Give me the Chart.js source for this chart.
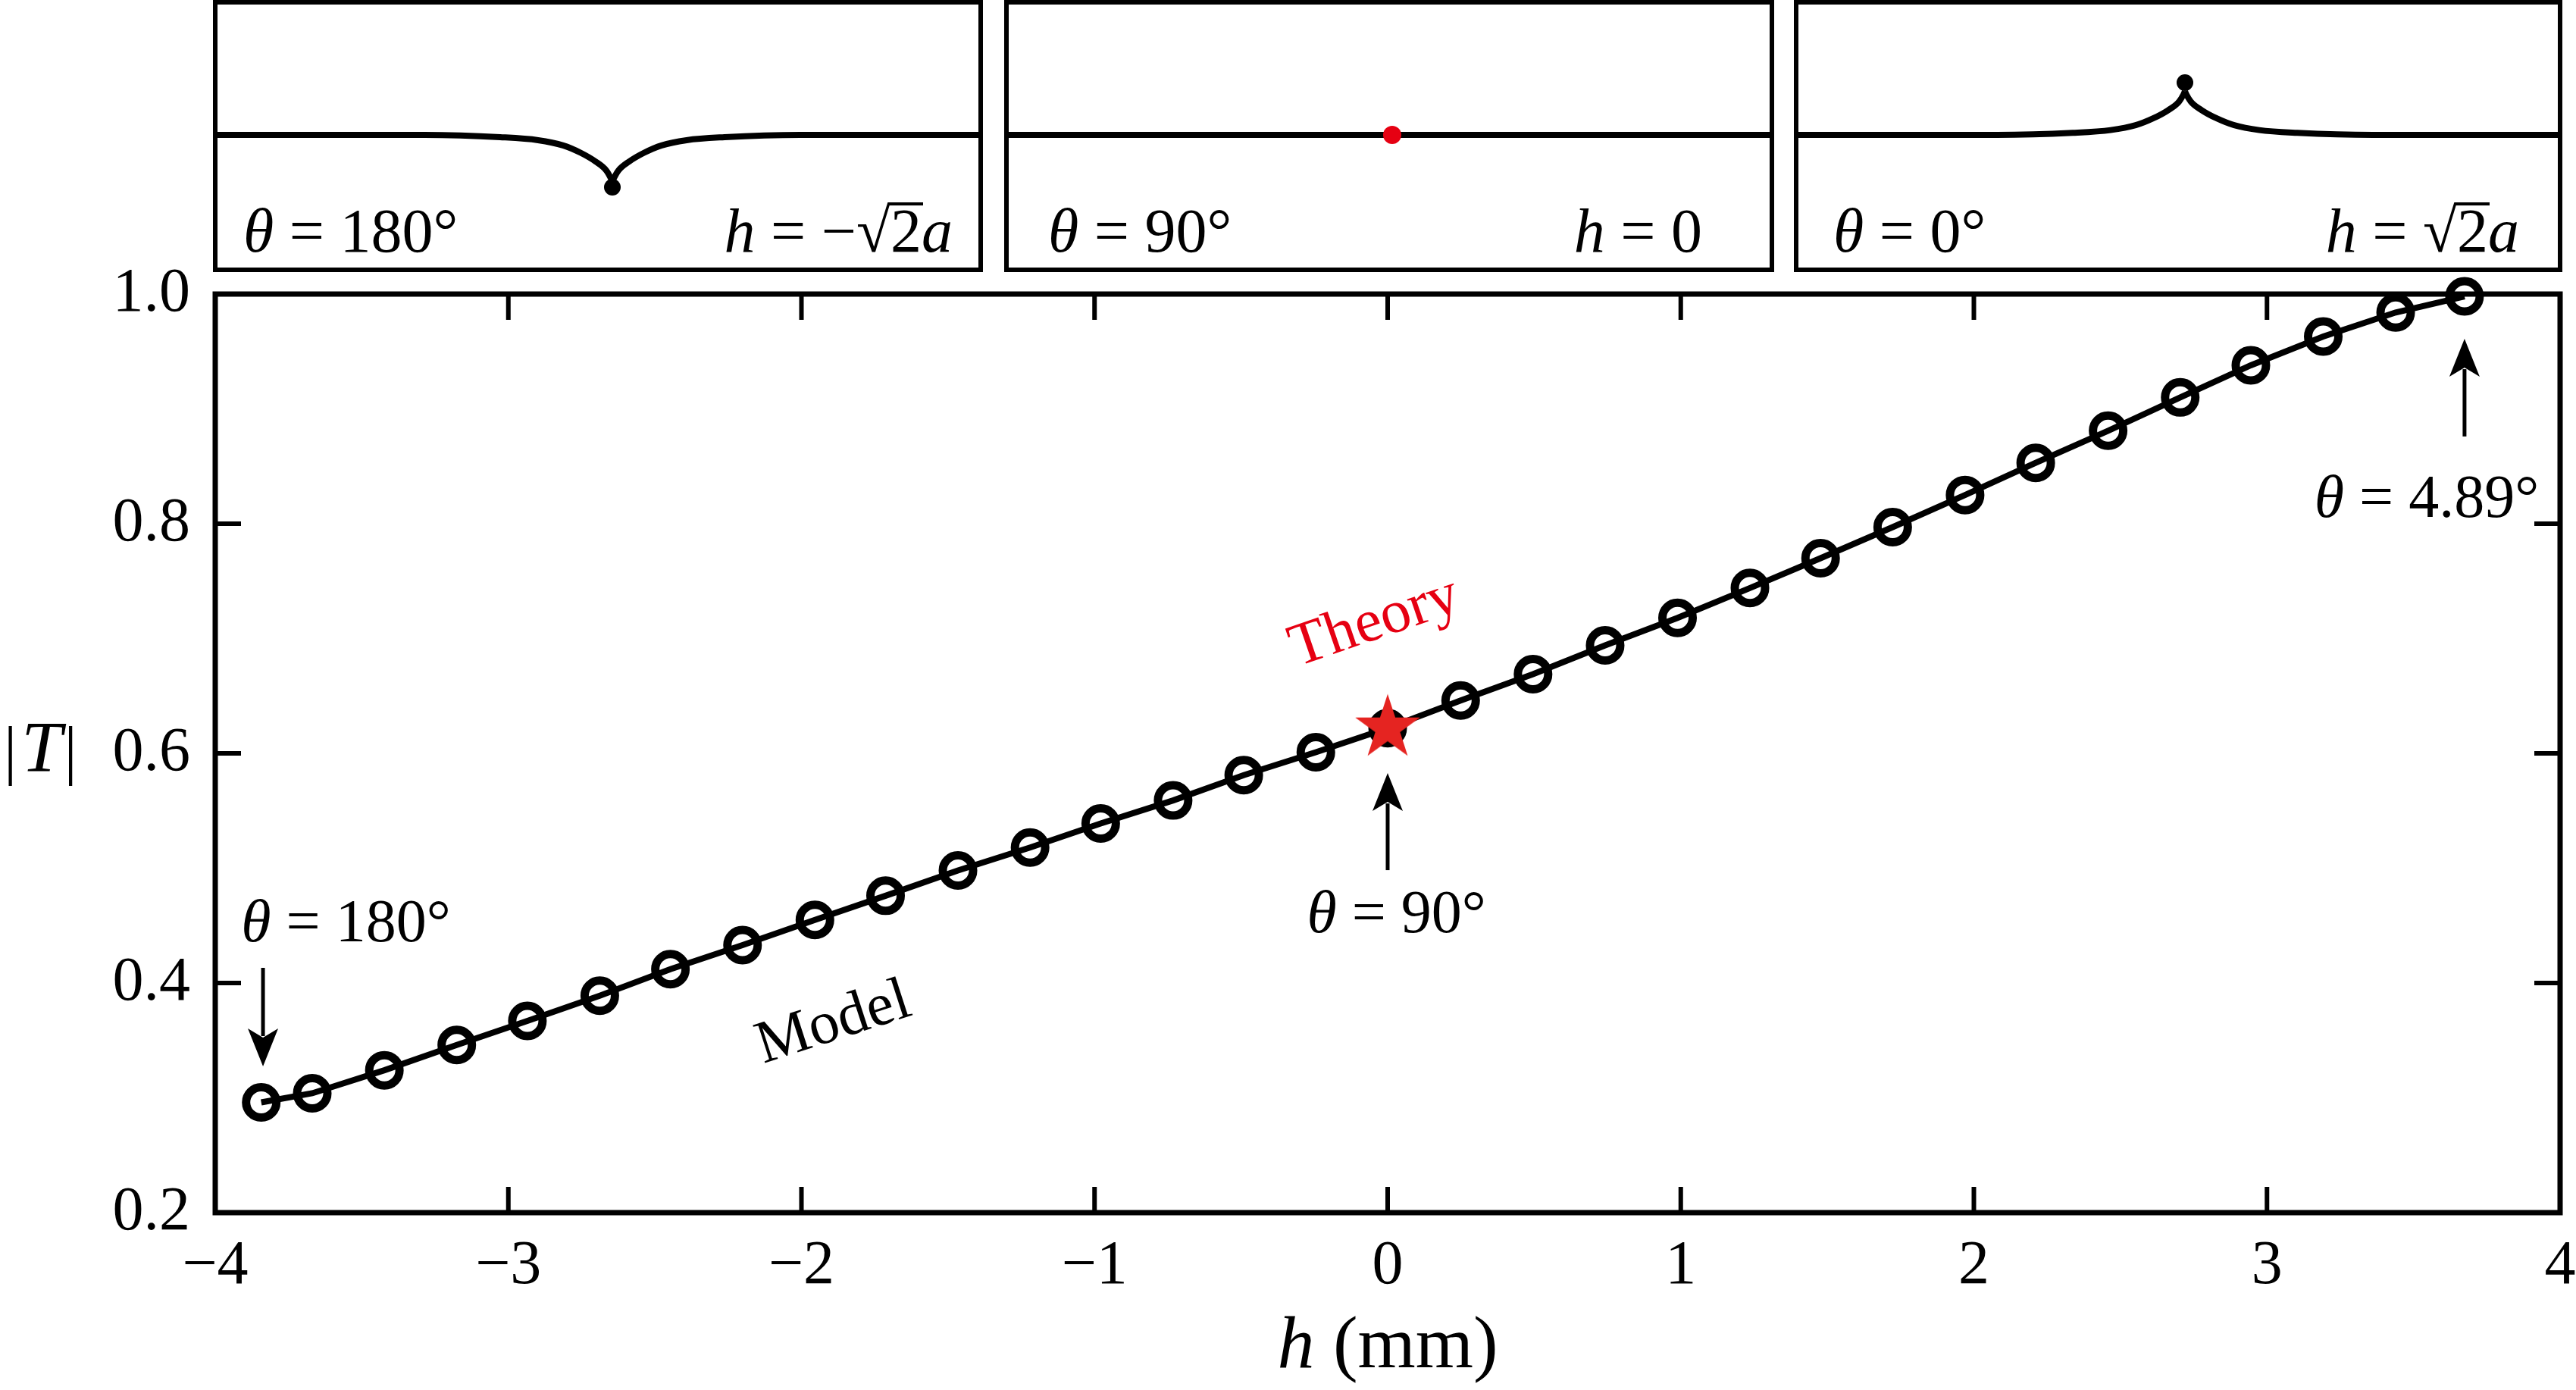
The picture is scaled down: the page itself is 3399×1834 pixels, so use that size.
<!DOCTYPE html>
<html>
<head>
<meta charset="utf-8">
<script src="https://cdn.jsdelivr.net/npm/chart.js@4.4.1/dist/chart.umd.min.js"></script>
<style>
  html, body { margin: 0; padding: 0; background: #fff; }
  #wrap { position: relative; width: 3399px; height: 1834px; }
  canvas { position: absolute; }
</style>
</head>
<body>
<div id="wrap">
  <canvas id="main" width="3399" height="1834" style="left:0;top:0"></canvas>
  <canvas id="inset0" width="1016" height="359" style="left:281px;top:0"></canvas>
  <canvas id="inset1" width="1016" height="359" style="left:1325px;top:0"></canvas>
  <canvas id="inset2" width="1014" height="359" style="left:2367px;top:0"></canvas>
</div>
<script>
// h (mm) of the model points
const hValues = [-3.843, -3.669, -3.423, -3.176, -2.935, -2.688, -2.447, -2.201,
  -1.954, -1.713, -1.466, -1.220, -0.979, -0.732, -0.491, -0.245, 0.000, 0.249,
  0.496, 0.742, 0.989, 1.236, 1.477, 1.723, 1.970, 2.211, 2.458, 2.704, 2.945,
  3.192, 3.439, 3.674];
// |T| of the model points
const modelT = [0.296, 0.304, 0.324, 0.346, 0.367, 0.389, 0.412, 0.433, 0.455,
  0.476, 0.498, 0.518, 0.539, 0.559, 0.581, 0.601, 0.622, 0.646, 0.669, 0.694,
  0.718, 0.744, 0.770, 0.797, 0.825, 0.853, 0.881, 0.910, 0.938, 0.963, 0.984,
  0.998];
// theory point (red star)
const theoryH = [0];
const theoryT = [0.622];

const xTicks = [-4, -3, -2, -1, 0, 1, 2, 3, 4];
const yTicks = [0.2, 0.4, 0.6, 0.8, 1.0];

// inset sketches: surface profile around the cusp (offset, height), one side
const profileDx = [0, 0.02, 0.08, 0.22, 0.42, 0.65, 0.98, 1.48, 2.48, 6];
const profileDev = [0.90, 0.83, 0.68, 0.51, 0.34, 0.20, 0.10, 0.043, 0, 0];
const insetAmp = [-1, 0, 0.93];          // dip, flat, bump
const insetTheta = ['180°', '90°', '0°'];

// arrows with their theta labels, in data units
const arrowH = [-3.837, 0, 3.674];
const arrowFrom = [0.4132, 0.4983, 0.876];
const arrowTo = [0.3274, 0.5828, 0.961];
const noteH = [-3.554, 0.030, 3.545];
const noteT = [0.4363, 0.4442, 0.806];
const noteText = ['180°', '90°', '4.89°'];

const SERIF = "'Liberation Serif', 'Times New Roman', serif";
Chart.defaults.font.family = SERIF;
Chart.defaults.color = '#000';

// draw a line of mixed upright / italic text
function drawRuns(ctx, runs, x, y, align) {
  let w = 0;
  runs.forEach(r => {
    if (r.gap) { w += r.gap; return; }
    ctx.font = (r.it ? 'italic ' : '') + r.size + 'px ' + SERIF;
    r.w = ctx.measureText(r.t).width;
    w += r.w;
  });
  let cx = align === 'center' ? x - w / 2 : align === 'right' ? x - w : x;
  ctx.textAlign = 'left';
  ctx.textBaseline = 'alphabetic';
  let rootTop = null;
  runs.forEach(r => {
    if (r.gap) { cx += r.gap; return; }
    ctx.font = (r.it ? 'italic ' : '') + r.size + 'px ' + SERIF;
    ctx.fillText(r.t, cx, y);
    if (r.root) {
      rootTop = y - ctx.measureText(r.t).actualBoundingBoxAscent;
    }
    if (r.over && rootTop !== null) {
      ctx.fillRect(cx - 2, rootTop, r.w + 4, r.size * 0.05);
    }
    cx += r.w;
  });
}

function thetaRuns(val, size) {
  return [{ t: 'θ', it: true, size }, { t: ' = ' + val, size }];
}

function drawArrow(ctx, x, yFrom, yTip) {
  const dir = Math.sign(yTip - yFrom);
  ctx.lineWidth = 5;
  ctx.beginPath();
  ctx.moveTo(x, yFrom);
  ctx.lineTo(x, yTip - dir * 40);
  ctx.stroke();
  ctx.beginPath();
  ctx.moveTo(x, yTip);
  ctx.lineTo(x - 20, yTip - dir * 50);
  ctx.lineTo(x, yTip - dir * 38);
  ctx.lineTo(x + 20, yTip - dir * 50);
  ctx.closePath();
  ctx.fill();
}

function makeStar(r, color) {
  const c = document.createElement('canvas');
  c.width = c.height = Math.ceil(2 * r + 4);
  const g = c.getContext('2d');
  const m = c.width / 2;
  g.beginPath();
  for (let k = 0; k < 10; k++) {
    const rad = k % 2 ? r * 0.382 : r;
    const a = -Math.PI / 2 + k * Math.PI / 5;
    g.lineTo(m + rad * Math.cos(a), m + rad * Math.sin(a));
  }
  g.closePath();
  g.fillStyle = color;
  g.fill();
  return c;
}

// frame with inward ticks on all four sides
const framePlugin = {
  id: 'frame',
  beforeDatasetsDraw(chart) {
    const { ctx, chartArea: a, scales: { x, y } } = chart;
    ctx.save();
    ctx.strokeStyle = '#000';
    ctx.lineWidth = 6;
    const tl = 34;
    xTicks.forEach(v => {
      const px = x.getPixelForValue(v);
      ctx.beginPath();
      ctx.moveTo(px, a.bottom); ctx.lineTo(px, a.bottom - tl);
      ctx.moveTo(px, a.top); ctx.lineTo(px, a.top + tl);
      ctx.stroke();
    });
    yTicks.forEach(v => {
      const py = y.getPixelForValue(v);
      ctx.beginPath();
      ctx.moveTo(a.left, py); ctx.lineTo(a.left + tl, py);
      ctx.moveTo(a.right, py); ctx.lineTo(a.right - tl, py);
      ctx.stroke();
    });
    ctx.lineWidth = 7;
    ctx.strokeRect(a.left, a.top, a.right - a.left, a.bottom - a.top);
    ctx.restore();
  }
};

// axis titles, arrows and text notes
const notesPlugin = {
  id: 'notes',
  afterDatasetsDraw(chart) {
    const { ctx, scales: { x, y } } = chart;
    ctx.save();
    ctx.fillStyle = '#000';
    ctx.strokeStyle = '#000';
    arrowH.forEach((h, i) => {
      drawArrow(ctx, x.getPixelForValue(h), y.getPixelForValue(arrowFrom[i]), y.getPixelForValue(arrowTo[i]));
      drawRuns(ctx, thetaRuns(noteText[i], 80), x.getPixelForValue(noteH[i]), y.getPixelForValue(noteT[i]), 'center');
    });

    // series labels
    ctx.textAlign = 'center';
    ctx.textBaseline = 'middle';
    ctx.font = '80px ' + SERIF;
    ctx.save();
    ctx.translate(x.getPixelForValue(-0.044), y.getPixelForValue(0.7135));
    ctx.rotate(-19 * Math.PI / 180);
    ctx.fillStyle = '#e60012';
    ctx.fillText('Theory', 0, 0);
    ctx.restore();
    ctx.save();
    ctx.translate(x.getPixelForValue(-1.890), y.getPixelForValue(0.3644));
    ctx.rotate(-18 * Math.PI / 180);
    ctx.fillText('Model', 0, 0);
    ctx.restore();

    // axis titles
    drawRuns(ctx, [{ t: 'h', it: true, size: 98 }, { t: ' (mm)', size: 98 }], x.getPixelForValue(0), 1804, 'center');
    drawRuns(ctx, [{ t: '|', size: 86 }, { gap: 6 }, { t: 'T', it: true, size: 96 }, { gap: 3 }, { t: '|', size: 86 }], 5, 1018, 'left');
    ctx.restore();
  }
};

new Chart(document.getElementById('main'), {
  type: 'scatter',
  data: {
    datasets: [
      {
        label: 'Theory',
        data: theoryH.map((h, i) => ({ x: h, y: theoryT[i] })),
        pointStyle: makeStar(45, '#e52421'),
        pointRadius: 45,
        showLine: false,
        clip: false,
        order: 0
      },
      {
        label: 'Model',
        data: hValues.map((h, i) => ({ x: h, y: modelT[i] })),
        showLine: true,
        borderColor: '#000',
        borderWidth: 8,
        tension: 0,
        pointRadius: 20,
        pointBorderWidth: 11,
        pointBorderColor: '#000',
        pointBackgroundColor: 'rgba(0,0,0,0)',
        clip: false,
        order: 1
      }
    ]
  },
  options: {
    responsive: false,
    animation: false,
    events: [],
    layout: { autoPadding: false, padding: { top: 388, right: 21, left: 0, bottom: 0 } },
    plugins: { legend: { display: false }, tooltip: { enabled: false } },
    scales: {
      x: {
        type: 'linear', min: -4, max: 4,
        afterBuildTicks: s => { s.ticks = xTicks.map(v => ({ value: v })); },
        afterFit: s => { s.height = 234; s.paddingLeft = 0; s.paddingRight = 0; },
        grid: { display: false, drawTicks: false },
        border: { display: false },
        ticks: {
          font: { size: 82 }, color: '#000', padding: 22, maxRotation: 0, autoSkip: false,
          callback: v => (v < 0 ? '\u2212' + Math.abs(v) : String(v))
        }
      },
      y: {
        type: 'linear', min: 0.2, max: 1.0,
        afterBuildTicks: s => { s.ticks = yTicks.map(v => ({ value: v })); },
        afterFit: s => { s.width = 284; s.paddingTop = 0; s.paddingBottom = 0; },
        grid: { display: false, drawTicks: false },
        border: { display: false },
        ticks: { font: { size: 82 }, color: '#000', padding: 33, callback: v => v.toFixed(1) }
      }
    }
  },
  plugins: [framePlugin, notesPlugin]
});

// the three surface sketches above the plot
const insetRange = [[-5.27, 4.89], [-5.12, 5.04], [-5.16, 4.98]];
const insetLeft = [40, 58, 52];
const insetRight = [976, 921, 957];
const insetHRuns = [
  [{ t: 'h', it: true, size: 82 }, { t: ' = \u2212', size: 82 }, { t: '√', size: 82, root: true }, { t: '2', size: 82, over: true }, { t: 'a', it: true, size: 82 }],
  [{ t: 'h', it: true, size: 82 }, { t: ' = 0', size: 82 }],
  [{ t: 'h', it: true, size: 82 }, { t: ' = ', size: 82 }, { t: '√', size: 82, root: true }, { t: '2', size: 82, over: true }, { t: 'a', it: true, size: 82 }]
];

insetAmp.forEach((amp, k) => {
  const right = profileDx.map((d, i) => ({ x: d, y: amp * profileDev[i] }));
  const left = profileDx.map((d, i) => ({ x: -d, y: amp * profileDev[i] })).reverse();
  const boxPlugin = {
    id: 'box' + k,
    afterDraw(chart) {
      const { ctx, width, height } = chart;
      ctx.save();
      ctx.strokeStyle = '#000';
      ctx.lineWidth = 6;
      ctx.strokeRect(3, 3, width - 6, height - 6);
      ctx.fillStyle = '#000';
      drawRuns(ctx, thetaRuns(insetTheta[k], 82), insetLeft[k], 332, 'left');
      drawRuns(ctx, insetHRuns[k], insetRight[k], 332, 'right');
      ctx.restore();
    }
  };
  const lineStyle = { showLine: true, borderColor: '#000', borderWidth: 8, pointRadius: 0, cubicInterpolationMode: 'monotone', clip: false };
  new Chart(document.getElementById('inset' + k), {
    type: 'scatter',
    data: {
      datasets: [
        { data: [{ x: 0, y: amp === 0 ? 0 : Math.sign(amp) * 1.0 }], pointRadius: amp === 0 ? 12 : 11,
          pointBackgroundColor: amp === 0 ? '#e60012' : '#000', pointBorderWidth: 0, showLine: false, order: 0 },
        Object.assign({ data: left, order: 1 }, lineStyle),
        Object.assign({ data: right, order: 1 }, lineStyle)
      ]
    },
    options: {
      responsive: false,
      animation: false,
      events: [],
      layout: { autoPadding: false, padding: 0 },
      plugins: { legend: { display: false }, tooltip: { enabled: false } },
      scales: {
        x: { type: 'linear', display: false, min: insetRange[k][0], max: insetRange[k][1] },
        y: { type: 'linear', display: false, min: -2.623, max: 2.58 }
      }
    },
    plugins: [boxPlugin]
  });
});
</script>
</body>
</html>
